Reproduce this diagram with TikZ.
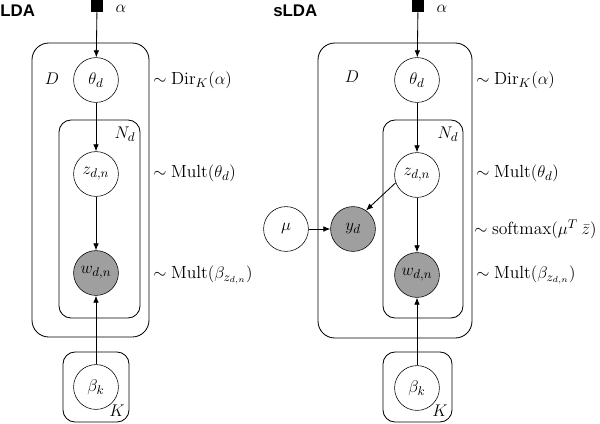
\documentclass[tikz,border=0pt]{standalone}
\usepackage{fontspec}
\newfontfamily\headfont{Liberation Sans}
\usetikzlibrary{arrows.meta}
\tikzset{
	latent/.style={draw,circle,minimum size=1.12cm,inner sep=0pt,fill=white},
	observed/.style={latent,fill=gray!75},
	hyper/.style={fill=black,minimum size=0.3cm,inner sep=0pt},
	plate/.style={line width=0.6pt,rounded corners=0.42cm},
	edge/.style={line width=0.6pt,-{Latex[length=5pt,width=4pt]}},
	dist/.style={anchor=west,inner sep=0pt},
	title/.style={anchor=west,inner sep=0pt,font=\headfont\bfseries\fontsize{12}{14}\selectfont}
}
\begin{document}
\begin{tikzpicture}[x=0.025cm,y=-0.025cm,font=\fontsize{12.5}{15}\selectfont]
				\useasboundingbox (0,0) rectangle (600,423);
				\node[title] (ldat) at (0,11) {LDA};
				\node[title] (sldat) at (273,11) {sLDA};
				\draw [plate] (32,43) rectangle (149,337);
				\draw [plate,rounded corners=0.3cm] (59,120) rectangle (140,318);
				\draw [plate,rounded corners=0.3cm] (63,352) rectangle (129,422);
				\node[hyper] (A) at (97,6) {};
				\node[latent] (T) at (96,80) {$\theta_d$};
				\node[latent] (Z) at (96,174) {$z_{d,n}$};
				\node[observed] (W) at (96,273) {$w_{d,n}$};
				\node[latent] (B) at (96,387) {$\beta_k$};
				\draw [edge] (A) to (T);
				\draw [edge] (T) to (Z);
				\draw [edge] (Z) to (W);
				\draw [edge] (B) to (W);
				\node[inner sep=0pt] (Al) at (121,9) {$\alpha$};
				\node (Dl) at (52,79) {$D$};
				\node (Nl) at (125,134) {$N_d$};
				\node (Kl) at (117,411) {$K$};
				\node[dist] (Tl) at (153,80) {$\sim\mathrm{Dir}_K(\alpha)$};
				\node[dist] (Zl) at (153,173) {$\sim\mathrm{Mult}(\theta_d)$};
				\node[dist] (Wl) at (153,275) {$\sim\mathrm{Mult}\bigl(\beta_{z_{d,n}}\bigr)$};
				\draw [plate] (318,43) rectangle (472,338);
				\draw [plate,rounded corners=0.3cm] (383,120) rectangle (463,318);
				\draw [plate,rounded corners=0.3cm] (383,352) rectangle (452,422);
				\node[hyper] (A2) at (418,6) {};
				\node[latent] (T2) at (417,80) {$\theta_d$};
				\node[latent] (Z2) at (417,175) {$z_{d,n}$};
				\node[observed] (Y2) at (353,229) {$y_d$};
				\node[latent] (M2) at (286,229) {$\mu$};
				\node[observed] (W2) at (417,275) {$w_{d,n}$};
				\node[latent] (B2) at (417,388) {$\beta_k$};
				\draw [edge] (A2) to (T2);
				\draw [edge] (T2) to (Z2);
				\draw [edge] (Z2) to (W2);
				\draw [edge] (B2) to (W2);
				\draw [edge] (M2) to (Y2);
				\draw [edge] (Z2.200) to (Y2.55);
				\node[inner sep=0pt] (Al2) at (442,9) {$\alpha$};
				\node (Dl2) at (352,77) {$D$};
				\node (Nl2) at (448,134) {$N_d$};
				\node (Kl2) at (440,411) {$K$};
				\node[dist] (Tl2) at (476,80) {$\sim\mathrm{Dir}_K(\alpha)$};
				\node[dist] (Zl2) at (476,173) {$\sim\mathrm{Mult}(\theta_d)$};
				\node[dist] (Yl2) at (474,229) {$\sim\mathrm{softmax}(\mu^{T}\mkern4mu\bar{z})$};
				\node[dist] (Wl2) at (476,275) {$\sim\mathrm{Mult}\bigl(\beta_{z_{d,n}}\bigr)$};
			\end{tikzpicture}
\end{document}
